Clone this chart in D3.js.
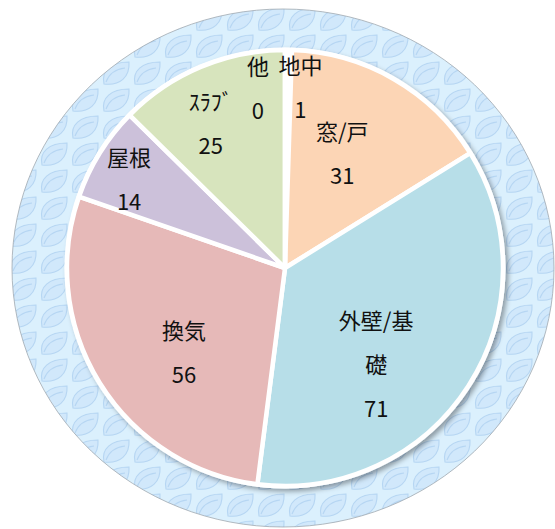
<!DOCTYPE html>
<html>
<head>
<meta charset="utf-8">
<script src="https://cdn.jsdelivr.net/npm/d3@7"></script>
<style>
  html, body { margin: 0; padding: 0; background: #fff; }
  svg { display: block; }
</style>
</head>
<body>
<div id="chart"></div>
<script>
// data
const categories = ['地中', '窓/戸', '外壁/基礎', '換気', '屋根', 'ｽﾗﾌﾞ', '他'];
const values = [1, 31, 71, 56, 14, 25, 0];
const labelLines = [['地中'], ['窓/戸'], ['外壁/基', '礎'], ['換気'], ['屋根'], ['ｽﾗﾌﾞ'], ['他']];
const colors = ['#FFFFFF', '#FCD5B5', '#B7DEE8', '#E6B9B8', '#CCC1DA', '#D7E4BD', '#C6D9F1'];

// label placement: radius and angular nudge (deg) from the slice's mid angle
const labelRadius = [180, 127, 133, 132, 179, 162, 181];
const labelNudge = [4.0, -3.2, 14.0, -8.2, -2.4, -4.6, -8.6];

const width = 555, height = 529;
const cx = 285, cy = 268, radius = 218;
const lineGap = 44;

const svg = d3.select('#chart').append('svg')
  .attr('width', width)
  .attr('height', height);

const defs = svg.append('defs');

// leaf background pattern
const pat = defs.append('pattern')
  .attr('id', 'leaves')
  .attr('patternUnits', 'userSpaceOnUse')
  .attr('x', 8).attr('y', 6)
  .attr('width', 31).attr('height', 27);
pat.append('rect').attr('width', 31).attr('height', 27).attr('fill', '#DBF0FD');
pat.append('path')
  .attr('d', 'M3,24 C0,11 10,2 28,2 C29,17 19,26 3,24 Z')
  .attr('fill', '#D1E8FB')
  .attr('stroke', '#B6D6F3')
  .attr('stroke-width', 1.1);
pat.append('path')
  .attr('d', 'M5,22 C8,14 15,9 24,8')
  .attr('fill', 'none')
  .attr('stroke', '#B6D6F3')
  .attr('stroke-width', 1.1);

const shadow = defs.append('filter')
  .attr('id', 'shadow')
  .attr('x', '-10%').attr('y', '-10%')
  .attr('width', '120%').attr('height', '120%');
shadow.append('feDropShadow')
  .attr('dx', 3).attr('dy', 3)
  .attr('stdDeviation', 2.5)
  .attr('flood-color', '#000')
  .attr('flood-opacity', 0.35);

// plot area background
svg.append('ellipse')
  .attr('cx', 283).attr('cy', 268)
  .attr('rx', 271).attr('ry', 259)
  .attr('fill', 'url(#leaves)')
  .attr('stroke', '#A0A8B0')
  .attr('stroke-width', 0.8);

const g = svg.append('g')
  .attr('transform', `translate(${cx},${cy})`);

const pie = d3.pie().sort(null).value(d => d.value);
const arcs = pie(categories.map((c, i) => ({ name: c, value: values[i], i })));

const arc = d3.arc().innerRadius(0).outerRadius(radius);

// outer white ring + shadow
g.append('circle')
  .attr('r', radius + 2.5)
  .attr('fill', '#fff')
  .attr('filter', 'url(#shadow)');

g.selectAll('path.slice')
  .data(arcs)
  .join('path')
  .attr('class', 'slice')
  .attr('d', arc)
  .attr('fill', d => colors[d.data.i])
  .attr('stroke', '#fff')
  .attr('stroke-width', 4.5)
  .attr('stroke-linejoin', 'round');

// labels
arcs.forEach(d => {
  const i = d.data.i;
  const mid = (d.startAngle + d.endAngle) / 2 + labelNudge[i] * Math.PI / 180;
  const r = labelRadius[i];
  const x = Math.sin(mid) * r;
  const y = -Math.cos(mid) * r;
  const lines = labelLines[i].concat([String(values[i])]);
  const top = y - (lines.length - 1) * lineGap / 2;

  const t = g.append('text')
    .attr('text-anchor', 'middle')
    .attr('font-family', '"Noto Sans CJK JP", "Noto Sans", sans-serif')
    .attr('font-size', '22px')
    .attr('fill', '#111');
  lines.forEach((ln, k) => {
    t.append('tspan')
      .attr('x', x)
      .attr('y', top + k * lineGap)
      .attr('dy', '0.35em')
      .text(ln);
  });
});
</script>
</body>
</html>
